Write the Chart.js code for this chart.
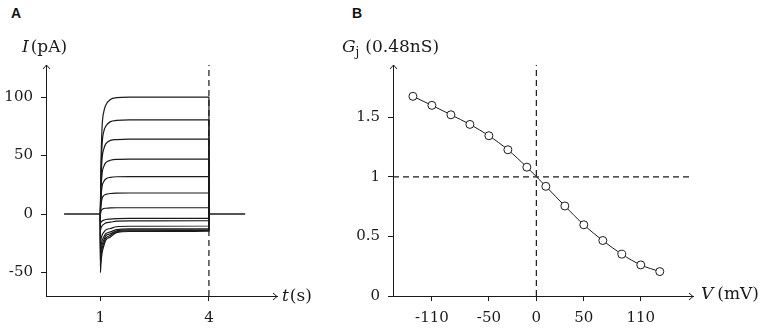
<!DOCTYPE html>
<html>
<head>
<meta charset="utf-8">
<script src="https://cdn.jsdelivr.net/npm/chart.js@4.4.1/dist/chart.umd.min.js"></script>
<style>
  body { margin: 0; background: #fff; width: 765px; height: 332px; position: relative; overflow: hidden; }
  canvas { position: absolute; top: 0; }
  .letter { position: absolute; top: 6px; font: bold 14px "Liberation Sans", Arial, sans-serif; line-height: 14px; color: #111; }
</style>
</head>
<body>
<div class="letter" style="left:11px">A</div>
<div class="letter" style="left:352px">B</div>
<canvas id="chartA" width="320" height="332" style="left:0"></canvas>
<canvas id="chartB" width="435" height="332" style="left:330px"></canvas>
<script>
// PANEL A - current traces (pA) during a voltage step from t=1 to t=4 s
const pulseTimes = [1, 1.002, 1.02, 1.05, 1.1, 1.15, 1.28, 1.45, 1.8, 4, 4.003];
const currentTraces = [
  [0, 4, 45, 75, 88, 93, 98, 99.5, 100, 100, 0],
  [0, 3, 36, 60, 71, 75, 79, 80, 80.5, 80.5, 0],
  [0, 3, 29, 48, 56, 60, 63, 63.7, 64, 64, 0],
  [0, 2, 21, 35, 41, 44, 46, 46.8, 47, 47, 0],
  [0, 1, 14, 24, 28, 30, 31.4, 31.9, 32, 32, 0],
  [0, 1, 8, 13.5, 16, 16.8, 17.6, 17.9, 18, 18, 0],
  [0, 0, 2.4, 4, 4.8, 5, 5.3, 5.4, 5.4, 5.4, 0],
  [0, -8, -6.9, -5.9, -5.2, -4.6, -4.3, -3.9, -3.7, -3.7, 0],
  [0, -14, -11.9, -10, -8.6, -7.5, -6.9, -6, -5.8, -5.7, 0],
  [0, -25, -21.3, -17.9, -15.4, -13.5, -12.3, -10.8, -10.4, -10.2, 0],
  [0, -32, -27.1, -22.6, -19.3, -16.8, -15.2, -13.3, -12.7, -12.5, 0],
  [0, -38, -31.8, -26.1, -22, -18.7, -16.8, -14.3, -13.5, -13.3, 0],
  [0, -44, -36.5, -29.6, -24.5, -20.6, -18.2, -15.2, -14.3, -14, 0],
  [0, -50, -41.1, -33, -26.9, -22.3, -19.5, -15.9, -14.9, -14.5, 0]
];
// holding current before and after the step
const preTimes = [0, 1];
const postTimes = [4, 5];
const holdCurrent = [0, 0];
const timeTicks = [1, 4];
const currentTicks = [-50, 0, 50, 100];
const stepEndTime = 4;
const timeRange = [-0.5, 5.88];
const currentRange = [-70, 127.4];

// PANEL B - junctional conductance vs voltage
const voltages = [-130, -110, -90, -70, -50, -30, -10, 10, 30, 50, 70, 90, 110, 130];
const conductance = [1.677, 1.601, 1.522, 1.441, 1.346, 1.228, 1.082, 0.921, 0.756, 0.598, 0.466, 0.351, 0.261, 0.205];
const voltageTicks = [-110, -50, 0, 50, 110];
const conductanceTicks = [0, 0.5, 1, 1.5];
const voltageRange = [-151, 165];
const conductanceRange = [0, 1.94];
const refConductance = 1;
const refVoltage = 0;

const serif = "'DejaVu Serif', serif";
const ink = '#1a1a1a';

const toPoints = (xs, ys) => xs.map((x, i) => ({ x: x, y: ys[i] }));

// arrow heads at the axis ends + axis titles made of text pieces
const axisDecor = {
  id: 'axisDecor',
  afterDraw(chart, args, opts) {
    const ctx = chart.ctx;
    const a = chart.chartArea;
    const l = Math.round(a.left) + 0.5, b = Math.round(a.bottom) + 0.5;
    const r = a.right, t = a.top;
    ctx.save();
    ctx.strokeStyle = ink;
    ctx.lineWidth = 1;
    ctx.beginPath();
    ctx.moveTo(r - 4, b - 3.5); ctx.lineTo(r, b); ctx.lineTo(r - 4, b + 3.5);
    ctx.moveTo(l - 3.5, t + 4); ctx.lineTo(l, t); ctx.lineTo(l + 3.5, t + 4);
    ctx.stroke();
    ctx.fillStyle = ink;
    ctx.textBaseline = 'alphabetic';
    [opts.xTitle, opts.yTitle].forEach(title => {
      let x = title.x;
      title.parts.forEach(p => {
        const size = p.sub ? 12 : 17;
        ctx.font = (p.italic ? 'italic ' : '') + size + 'px ' + serif;
        x += p.gap || 0;
        ctx.fillText(p.text, x, title.y + (p.sub ? 4 : 0));
        x += ctx.measureText(p.text).width;
      });
    });
    ctx.restore();
  }
};

function axis(min, max, ticks, fit) {
  return {
    type: 'linear', min: min, max: max, offset: false,
    afterBuildTicks: s => { s.ticks = ticks.map(v => ({ value: v })); },
    afterFit: fit,
    grid: { display: true, drawOnChartArea: false, drawTicks: true, tickLength: 5, tickWidth: 1, tickColor: ink },
    border: { display: true, color: ink, width: 1 },
    ticks: { font: { family: serif, size: 15 }, color: ink, padding: 8, maxRotation: 0, autoSkip: false,
             callback: v => String(v) }
  };
}

function baseOptions(padRight, xs, ys, titles) {
  return {
    responsive: false, animation: false, devicePixelRatio: 1,
    layout: { padding: { left: 0, right: padRight, top: 65, bottom: 0 } },
    plugins: { legend: { display: false }, tooltip: { enabled: false }, axisDecor: titles },
    scales: { x: xs, y: ys }
  };
}

const dashed = { showLine: true, pointRadius: 0, borderColor: ink, borderWidth: 1.2, borderDash: [6, 4] };

//PANEL A
const traceSets = currentTraces.map(tr => ({
  data: toPoints(pulseTimes, tr), showLine: true, pointRadius: 0,
  borderColor: ink, borderWidth: 1.2, cubicInterpolationMode: 'monotone'
}));

new Chart(document.getElementById('chartA'), {
  type: 'scatter',
  data: {
    datasets: [
      { data: toPoints(preTimes, holdCurrent), showLine: true, pointRadius: 0, borderColor: ink, borderWidth: 1.5 },
      { data: toPoints(postTimes, holdCurrent), showLine: true, pointRadius: 0, borderColor: ink, borderWidth: 1.5 },
      Object.assign({ data: toPoints([stepEndTime, stepEndTime], currentRange) }, dashed)
    ].concat(traceSets)
  },
  options: baseOptions(43,
    axis(timeRange[0], timeRange[1], timeTicks, s => { s.height = 36; }),
    axis(currentRange[0], currentRange[1], currentTicks, s => { s.width = 46; }),
    {
      xTitle: { x: 282, y: 301, parts: [{ text: 't', italic: true }, { text: '(s)', gap: 1 }] },
      yTitle: { x: 22, y: 52, parts: [{ text: 'I', italic: true }, { text: '(pA)', gap: 2 }] }
    }),
  plugins: [axisDecor]
});

//PANEL B
new Chart(document.getElementById('chartB'), {
  type: 'scatter',
  data: {
    datasets: [
      { data: toPoints(voltages, conductance), showLine: true, cubicInterpolationMode: 'monotone',
        borderColor: ink, borderWidth: 1, pointRadius: 4, pointBackgroundColor: '#fff',
        pointBorderColor: ink, pointBorderWidth: 1 },
      Object.assign({ data: toPoints(voltageRange, [refConductance, refConductance]) }, dashed),
      Object.assign({ data: toPoints([refVoltage, refVoltage], conductanceRange) }, dashed)
    ]
  },
  options: baseOptions(72,
    axis(voltageRange[0], voltageRange[1], voltageTicks, s => { s.height = 36; }),
    axis(conductanceRange[0], conductanceRange[1], conductanceTicks, s => { s.width = 63; }),
    {
      xTitle: { x: 371, y: 299, parts: [{ text: 'V', italic: true }, { text: '(mV)', gap: 4 }] },
      yTitle: { x: 12, y: 52, parts: [{ text: 'G', italic: true }, { text: 'j', sub: true }, { text: '(0.48nS)', gap: 6 }] }
    }),
  plugins: [axisDecor]
});
</script>
</body>
</html>
